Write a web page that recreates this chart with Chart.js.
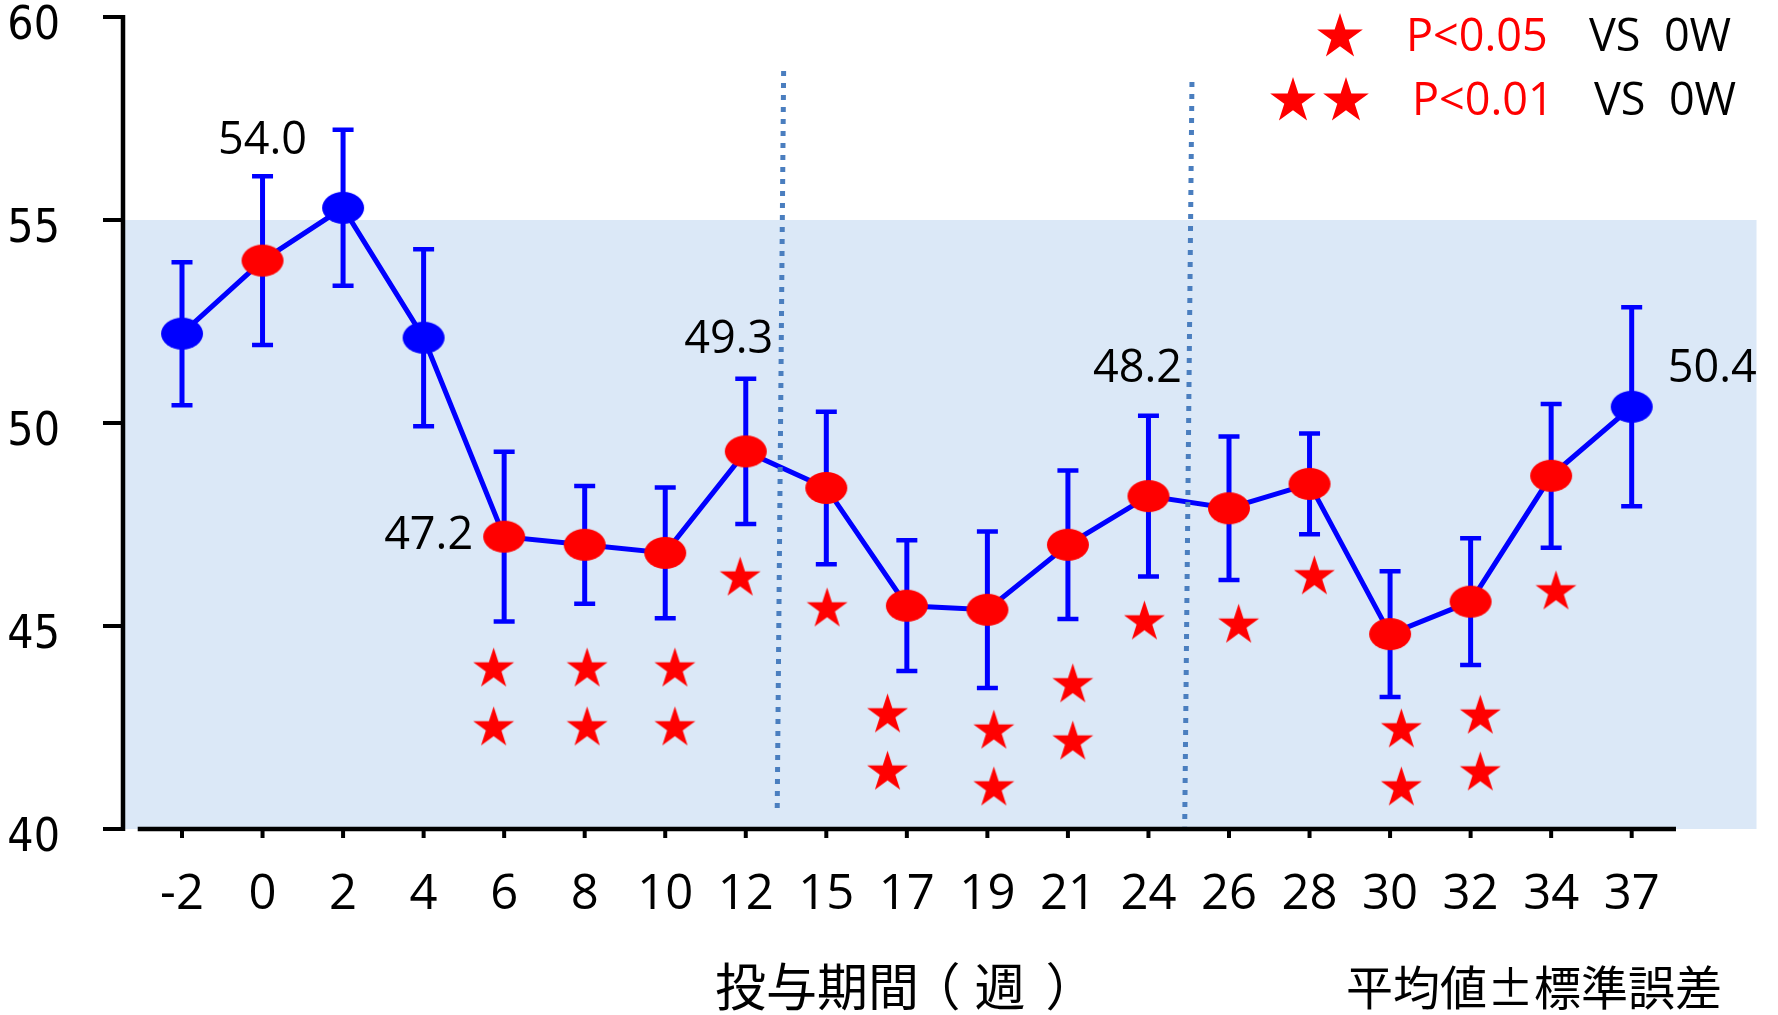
<!DOCTYPE html>
<html>
<head>
<meta charset="utf-8">
<title>投与期間（週）と平均値±標準誤差</title>
<script src="https://cdn.jsdelivr.net/npm/chart.js@4.4.1/dist/chart.umd.min.js"></script>
<style>
  html, body { margin: 0; padding: 0; background: #ffffff; }
  canvas { display: block; }
</style>
</head>
<body>
<canvas id="chart" width="1778" height="1015"></canvas>
<script>
// Weeks of administration (x categories)
const weeks = ['-2', '0', '2', '4', '6', '8', '10', '12', '15', '17', '19', '21', '24', '26', '28', '30', '32', '34', '37'];
// Mean value and standard error at each week
const means  = [52.2, 54.0, 55.3, 52.1, 47.2, 47.0, 46.8, 49.3, 48.4, 45.5, 45.4, 47.0, 48.2, 47.9, 48.5, 44.8, 45.6, 48.7, 50.4];
const stdErr = [1.76, 2.08, 1.92, 2.18, 2.09, 1.45, 1.61, 1.79, 1.88, 1.61, 1.93, 1.83, 1.98, 1.77, 1.24, 1.55, 1.56, 1.77, 2.45];
// Weeks shown with a red marker (the others are blue)
const redMarker = [false, true, false, false, true, true, true, true, true, true, true, true, true, true, true, true, true, true, false];
// Weeks whose mean is written beside the marker
const labelledWeeks = [1, 4, 7, 12, 18];
// Significance stars: position on the week axis and height on the value axis
const starX = [3.87, 3.87, 5.03, 5.03, 6.12, 6.12, 6.93, 8.01, 8.76, 8.76, 10.08, 10.08, 11.06, 11.06, 11.95, 13.12, 14.06, 15.14, 15.14, 16.12, 16.12, 17.06];
const starY = [43.94, 42.49, 43.94, 42.49, 43.94, 42.49, 46.18, 45.42, 42.81, 41.40, 42.41, 41.01, 43.55, 42.14, 45.10, 45.02, 46.21, 42.44, 41.01, 42.78, 41.38, 45.84];
// Period boundaries (dotted lines): [week position, value] at the top and bottom ends
const boundaryA = [[7.47, 58.67], [7.39, 40.37]];
const boundaryB = [[12.54, 58.40], [12.45, 40.07]];
// Value axis ticks and the shaded reference range
const yTicks = [40, 45, 50, 55, 60];
const shadedRange = [40, 55];
// Axis title and footnote
const xTitle = '投与期間';
const xTitleUnit = ['（', '週', '）'];
const footnote = '平均値±標準誤差';

const BLUE = '#0000FF';
const RED = '#FF0000';
const LATIN = '"Open Sans", "Liberation Sans", sans-serif';
const NARROW = '"Liberation Sans Narrow", "DejaVu Sans Condensed", "Liberation Sans", sans-serif';
const CJK = '"Noto Sans CJK JP", "Noto Sans CJK SC", sans-serif';

// Where each value label sits relative to its marker
const labelPlacement = {
  1:  { dx: 0,   dy: -119, align: 'center' },
  4:  { dx: -31, dy: 0,    align: 'right' },
  7:  { dx: -17, dy: -111, align: 'center' },
  12: { dx: -11, dy: -127, align: 'center' },
  18: { dx: 36,  dy: -38,  align: 'left' }
};
// Ink centres of the bracketed unit glyphs; opening brackets are anchored on their right side
const unitCentres = [951, 1000, 1055];
const unitAnchors = ['right', 'left', 'left'];

function starPath(ctx, cx, cy, R) {
  const r = R * 0.382;
  ctx.beginPath();
  for (let k = 0; k < 10; k++) {
    const rad = k % 2 ? r : R;
    const a = -Math.PI / 2 + k * Math.PI / 5;
    const px = cx + rad * Math.cos(a), py = cy + rad * Math.sin(a);
    if (k) ctx.lineTo(px, py); else ctx.moveTo(px, py);
  }
  ctx.closePath();
}

function starSprite(R, color) {
  const c = document.createElement('canvas');
  c.width = c.height = Math.ceil(2 * R + 2);
  const g = c.getContext('2d');
  g.fillStyle = color;
  starPath(g, c.width / 2, c.height / 2, R);
  g.fill();
  return c;
}

function ellipseSprite(rx, ry, color) {
  const c = document.createElement('canvas');
  c.width = 2 * rx + 2;
  c.height = 2 * ry + 2;
  const g = c.getContext('2d');
  g.fillStyle = color;
  g.beginPath();
  g.ellipse(c.width / 2, c.height / 2, rx, ry, 0, 0, Math.PI * 2);
  g.fill();
  return c;
}

const blueDot = ellipseSprite(21, 16, BLUE);
const redDot = ellipseSprite(21, 16, RED);
const starMark = starSprite(21.5, RED);

// Horizontal ink extent of a string relative to the pen position, plus its advance width
function inkSpan(text, font) {
  const c = document.createElement('canvas');
  c.width = 600; c.height = 140;
  const g = c.getContext('2d', { willReadFrequently: true });
  g.font = font;
  g.textAlign = 'left';
  g.textBaseline = 'alphabetic';
  g.fillStyle = '#000';
  g.fillText(text, 100, 100);
  const width = g.measureText(text).width;
  const d = g.getImageData(0, 0, c.width, c.height).data;
  let left = -1, right = -1;
  for (let px = 0; px < c.width; px++) {
    for (let py = 0; py < c.height; py++) {
      if (d[(py * c.width + px) * 4 + 3] > 100) {
        if (left < 0) left = px;
        right = px + 1;
        break;
      }
    }
  }
  return left < 0 ? { left: 0, right: 0, width } : { left: left - 100, right: right - 100, width };
}

// Draw text with its ink starting at x = left; baseline from the ink top unless given
function inkText(ctx, text, left, top, baseline) {
  const m = ctx.measureText(text);
  const y = baseline !== undefined ? baseline : top + m.actualBoundingBoxAscent;
  ctx.fillText(text, left - inkSpan(text, ctx.font).left, y);
  return y;
}

// Draw a glyph with its ink centred on x = centre, anchored on the given side
function inkCentred(ctx, text, centre, baseline, anchor) {
  const s = inkSpan(text, ctx.font);
  const half = (s.right - s.left) / 2;
  ctx.save();
  if (anchor === 'right') {
    ctx.textAlign = 'right';
    ctx.fillText(text, centre + half + (s.width - s.right), baseline);
  } else {
    ctx.textAlign = 'left';
    ctx.fillText(text, centre - half - s.left, baseline);
  }
  ctx.restore();
}

// Shaded reference band behind the plot
const bandPlugin = {
  id: 'band',
  beforeDatasetsDraw(chart) {
    const { ctx, chartArea, scales: { x, y } } = chart;
    const top = y.getPixelForValue(shadedRange[1]);
    const bottom = y.getPixelForValue(shadedRange[0]);
    const right = x.getPixelForValue(weeks.length - 1 + 1.55);
    ctx.save();
    ctx.fillStyle = '#DBE8F7';
    ctx.fillRect(chartArea.left, top, right - chartArea.left, bottom - top);
    ctx.restore();
  }
};

// Error bars (mean ± standard error) with caps
const errorBarPlugin = {
  id: 'errorBars',
  beforeDatasetsDraw(chart) {
    const { ctx, scales: { x, y } } = chart;
    ctx.save();
    ctx.strokeStyle = BLUE;
    means.forEach((m, i) => {
      const px = x.getPixelForValue(i);
      const top = y.getPixelForValue(m + stdErr[i]);
      const bot = y.getPixelForValue(m - stdErr[i]);
      ctx.lineWidth = 5;
      ctx.beginPath(); ctx.moveTo(px, top); ctx.lineTo(px, bot); ctx.stroke();
      ctx.lineWidth = 4.5;
      ctx.beginPath();
      ctx.moveTo(px - 10.5, top); ctx.lineTo(px + 10.5, top);
      ctx.moveTo(px - 10.5, bot); ctx.lineTo(px + 10.5, bot);
      ctx.stroke();
    });
    ctx.restore();
  }
};

// Axis lines with outward tick marks; the x axis starts just right of the y axis
const axesPlugin = {
  id: 'axes',
  afterDatasetsDraw(chart) {
    const { ctx, chartArea, scales: { x, y } } = chart;
    const axisX = chartArea.left + 1;
    const base = y.getPixelForValue(40);
    ctx.save();
    ctx.strokeStyle = '#000';
    ctx.lineWidth = 4.5;
    ctx.beginPath();
    ctx.moveTo(axisX, y.getPixelForValue(60) - 2);
    ctx.lineTo(axisX, base + 2);
    ctx.stroke();
    ctx.lineWidth = 4;
    yTicks.forEach(v => {
      const py = y.getPixelForValue(v);
      ctx.beginPath(); ctx.moveTo(axisX - 20, py); ctx.lineTo(axisX, py); ctx.stroke();
    });
    ctx.lineWidth = 4.5;
    ctx.beginPath();
    ctx.moveTo(x.getPixelForValue(-0.55), base);
    ctx.lineTo(x.getPixelForValue(weeks.length - 1 + 0.55), base);
    ctx.stroke();
    ctx.lineWidth = 4;
    weeks.forEach((w, i) => {
      const px = x.getPixelForValue(i);
      ctx.beginPath(); ctx.moveTo(px, base); ctx.lineTo(px, base + 9); ctx.stroke();
    });
    ctx.restore();
  }
};

// Value labels, significance key, axis title and footnote
const annotationPlugin = {
  id: 'annotations',
  afterDraw(chart) {
    const { ctx, scales: { x, y } } = chart;
    ctx.save();
    ctx.fillStyle = '#000';
    ctx.textBaseline = 'middle';
    ctx.font = '45px ' + LATIN;
    labelledWeeks.forEach(i => {
      const p = labelPlacement[i];
      ctx.textAlign = p.align;
      ctx.fillText(means[i].toFixed(1), x.getPixelForValue(i) + p.dx, y.getPixelForValue(means[i]) + p.dy);
    });

    // significance key
    ctx.fillStyle = RED;
    starPath(ctx, 1340, 37, 24); ctx.fill();
    starPath(ctx, 1293, 101, 24); ctx.fill();
    starPath(ctx, 1346, 101, 24); ctx.fill();
    ctx.textAlign = 'left';
    ctx.font = '45px ' + LATIN;
    ctx.fillText('P<0.05', 1406, 38);
    ctx.fillText('P<0.01', 1412, 102);
    ctx.fillStyle = '#000';
    ctx.fillText('VS  0W', 1589, 38);
    ctx.fillText('VS  0W', 1594, 102);

    // week axis title under the weeks, unit set apart in brackets
    ctx.textBaseline = 'alphabetic';
    ctx.font = '51px ' + CJK;
    const titleBase = inkText(ctx, xTitle, 717, 962);
    xTitleUnit.forEach((ch, k) => inkCentred(ctx, ch, unitCentres[k], titleBase, unitAnchors[k]));

    // footnote
    ctx.font = '47px ' + CJK;
    inkText(ctx, footnote, 1348, 965);
    ctx.restore();
  }
};

new Chart(document.getElementById('chart'), {
  type: 'line',
  data: {
    datasets: [
      {
        data: boundaryA.map(([bx, by]) => ({ x: bx, y: by })),
        borderColor: '#4A7EBF', borderWidth: 5, borderDash: [5, 7], borderCapStyle: 'butt',
        pointRadius: 0, order: 0, clip: false
      },
      {
        data: boundaryB.map(([bx, by]) => ({ x: bx, y: by })),
        borderColor: '#4A7EBF', borderWidth: 5, borderDash: [5, 7], borderCapStyle: 'butt',
        pointRadius: 0, order: 0, clip: false
      },
      {
        data: means.map((v, i) => ({ x: i, y: v })),
        borderColor: BLUE, borderWidth: 5, fill: false,
        pointStyle: redMarker.map(r => (r ? redDot : blueDot)),
        pointRadius: 21, pointHoverRadius: 21, order: 1, clip: false
      },
      {
        type: 'scatter',
        data: starX.map((sx, i) => ({ x: sx, y: starY[i] })),
        pointStyle: starMark, pointRadius: 22, pointHoverRadius: 22, showLine: false, order: 2
      }
    ]
  },
  options: {
    responsive: false,
    animation: false,
    events: [],
    layout: { autoPadding: false, padding: { top: 17, right: 124, bottom: 0, left: 0 } },
    elements: { line: { tension: 0 } },
    plugins: { legend: { display: false }, tooltip: { enabled: false } },
    scales: {
      x: {
        type: 'linear',
        min: -0.745,
        max: 18.277,
        afterFit(scale) { scale.height = 186; },
        afterBuildTicks(scale) { scale.ticks = weeks.map((w, i) => ({ value: i })); },
        grid: { display: false, drawTicks: false },
        border: { display: false },
        ticks: {
          autoSkip: false, maxRotation: 0, minRotation: 0, padding: 37, color: '#000',
          font: { family: LATIN, size: 49 },
          callback: v => weeks[v]
        }
      },
      y: {
        min: 40,
        max: 60,
        afterFit(scale) {
          scale.width = 122;
          // the value axis spans the full plot height; labels may overhang the ends
          scale.paddingTop = 0;
          scale.paddingBottom = 0;
        },
        afterBuildTicks(scale) { scale.ticks = yTicks.map(v => ({ value: v })); },
        grid: { display: false, drawTicks: false },
        border: { display: false },
        ticks: {
          padding: 62, color: '#000',
          font: { family: NARROW, size: 46, lineHeight: '20px' },
          // empty first line nudges each number just below its tick mark
          callback: v => ['', String(v)]
        }
      }
    }
  },
  plugins: [bandPlugin, errorBarPlugin, axesPlugin, annotationPlugin]
});
</script>
</body>
</html>
